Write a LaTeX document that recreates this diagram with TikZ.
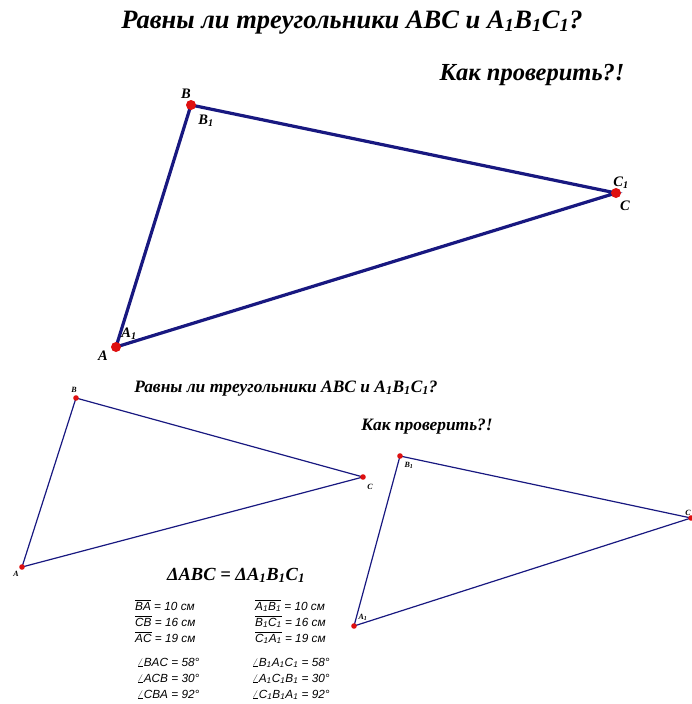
\documentclass[tikz,border=0pt]{standalone}
\usepackage{fontspec}
\setmainfont{Liberation Serif}
\setsansfont{Liberation Sans}
\definecolor{edgenavy}{RGB}{24,24,128}
\definecolor{ptred}{RGB}{222,16,16}
\newcommand{\ovl}[1]{$\overline{\hbox{#1}}$}
\newcommand{\one}{\textsubscript{1}}

\begin{document}
\begin{tikzpicture}[x=1pt,y=-1pt,
  bigtitle/.style={font=\bfseries\itshape\fontsize{26.5}{30}\selectfont, anchor=base},
  smalltitle/.style={font=\bfseries\itshape\fontsize{17.4}{20}\selectfont, anchor=base},
  biglbl/.style={font=\bfseries\itshape\fontsize{14.5}{16}\selectfont, inner sep=0pt},
  smalllbl/.style={font=\bfseries\itshape\fontsize{8}{9}\selectfont, inner sep=0pt},
  thickside/.style={draw=edgenavy, line width=3.2pt},
  thinside/.style={draw=edgenavy, line width=1.2pt},
  fact/.style={font=\sffamily\itshape\fontsize{11.8}{13}\selectfont, anchor=base west, inner sep=0pt}]
\useasboundingbox (0,0) rectangle (692,704);

% Titles
\node[bigtitle] (q1) at (352,28) {Равны ли треугольники ABC и A\one B\one C\one?};
\node[bigtitle, font=\bfseries\itshape\fontsize{24.5}{28}\selectfont] (h1) at (532,80) {Как проверить?!};

% Big triangle, both copies on top of each other
\coordinate (A) at (116,347);
\coordinate (B) at (191,105);
\coordinate (C) at (616,193);
\draw[thickside] (A) -- (B) -- (C) -- cycle;
\foreach \p in {A,B,C}
  \fill[ptred] (\p) circle (5pt);
\node[biglbl] (lB) at (186,94) {B};
\node[biglbl] (lB1) at (206,121) {B\one};
\node[biglbl] (lC1) at (621,183) {C\one};
\node[biglbl] (lC) at (625,206) {C};
\node[biglbl] (lA1) at (129,334) {A\one};
\node[biglbl] (lA) at (103,356) {A};

% Smaller title repeated
\node[smalltitle] (q2) at (286,392) {Равны ли треугольники ABC и A\one B\one C\one?};
\node[smalltitle] (h2) at (427,430) {Как проверить?!};

% Left triangle ABC
\coordinate (a) at (22,567);
\coordinate (b) at (76,398);
\coordinate (c) at (363,477);
\draw[thinside] (a) -- (b) -- (c) -- cycle;
\foreach \p in {a,b,c}
  \fill[ptred] (\p) circle (2.8pt);
\node[smalllbl] (lb) at (74,390) {B};
\node[smalllbl] (lc) at (370,487) {C};
\node[smalllbl] (la) at (16,574) {A};

% Right triangle A1B1C1
\coordinate (a1) at (354,626);
\coordinate (b1) at (400,456);
\coordinate (c1) at (691,518);
\draw[thinside] (a1) -- (b1) -- (c1) -- cycle;
\foreach \p in {a1,b1,c1}
  \fill[ptred] (\p) circle (2.8pt);
\node[smalllbl] (lb1) at (409,465) {B\one};
\node[smalllbl] (la1) at (363,617) {A\one};
\node[smalllbl] (lc1) at (688,513) {C};

% Result
\node[smalltitle, font=\bfseries\itshape\fontsize{18.5}{21}\selectfont] (eq) at (236,580) {ΔABC = ΔA\one B\one C\one};

% Sides
\node[fact] (s1) at (135,610) {\ovl{BA} = 10 см};
\node[fact] (s2) at (135,626) {\ovl{CB} = 16 см};
\node[fact] (s3) at (135,642) {\ovl{AC} = 19 см};
\node[fact] (t1) at (255,610) {\ovl{A\one}\ovl{B\one} = 10 см};
\node[fact] (t2) at (255,626) {\ovl{B\one}\ovl{C\one} = 16 см};
\node[fact] (t3) at (255,642) {\ovl{C\one}\ovl{A\one} = 19 см};

% Angles
\node[fact] (g1) at (137,666) {$\angle$BAC = 58°};
\node[fact] (g2) at (137,682) {$\angle$ACB = 30°};
\node[fact] (g3) at (137,698) {$\angle$CBA = 92°};
\node[fact] (k1) at (252,666) {$\angle$B\one A\one C\one{} = 58°};
\node[fact] (k2) at (252,682) {$\angle$A\one C\one B\one{} = 30°};
\node[fact] (k3) at (252,698) {$\angle$C\one B\one A\one{} = 92°};
\end{tikzpicture}
\end{document}
